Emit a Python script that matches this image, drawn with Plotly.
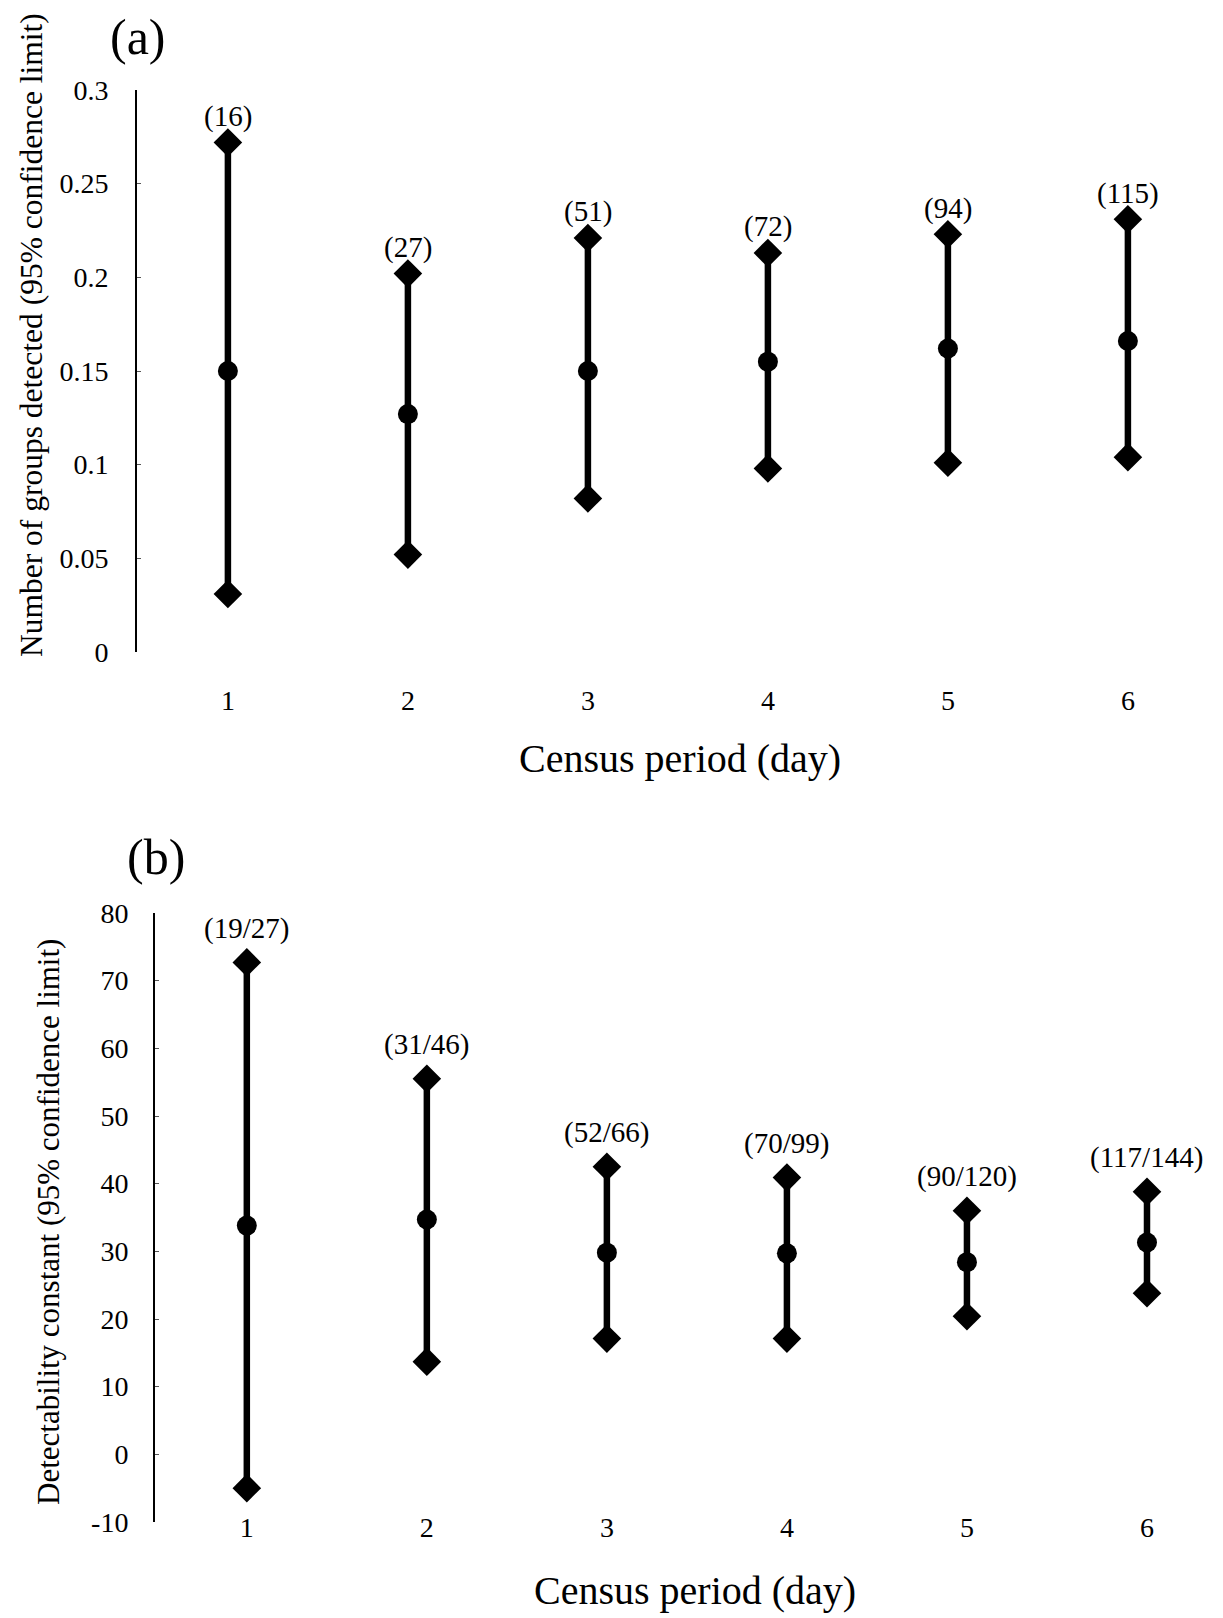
import plotly.graph_objects as go

W, H = 1223, 1618

# ---------- data ----------
days = [1, 2, 3, 4, 5, 6]

# panel (a): Number of groups detected
a_mean = [0.150, 0.127, 0.150, 0.155, 0.162, 0.166]
a_low = [0.031, 0.052, 0.082, 0.098, 0.101, 0.104]
a_high = [0.272, 0.202, 0.221, 0.213, 0.223, 0.231]
a_labels = ["(16)", "(27)", "(51)", "(72)", "(94)", "(115)"]

# panel (b): Detectability constant
b_mean = [33.8, 34.7, 29.8, 29.7, 28.4, 31.3]
b_low = [-5.0, 13.7, 17.1, 17.1, 20.4, 23.8]
b_high = [72.7, 55.5, 42.5, 40.9, 36.0, 38.8]
b_labels = ["(19/27)", "(31/46)", "(52/66)", "(70/99)", "(90/120)", "(117/144)"]

y_a_ticks = [0, 0.05, 0.1, 0.15, 0.2, 0.25, 0.3]
y_a_text = ["0", "0.05", "0.1", "0.15", "0.2", "0.25", "0.3"]
y_b_ticks = [-10, 0, 10, 20, 30, 40, 50, 60, 70, 80]
y_b_text = ["-10", "0", "10", "20", "30", "40", "50", "60", "70", "80"]

FONT = "Liberation Serif"
BLACK = "#000000"


def px_x(p):
    return p / W


def px_y(p):
    return 1 - p / H


fig = go.Figure()


def add_panel(xa, ya, mean, low, high):
    xs, ys = [], []
    for d, lo, hi in zip(days, low, high):
        xs += [d, d, None]
        ys += [lo, hi, None]
    fig.add_trace(go.Scatter(x=xs, y=ys, mode="lines", xaxis=xa, yaxis=ya,
                             line=dict(color=BLACK, width=6.5), showlegend=False,
                             hoverinfo="skip"))
    fig.add_trace(go.Scatter(x=days + days, y=low + high, mode="markers",
                             xaxis=xa, yaxis=ya, showlegend=False,
                             marker=dict(symbol="diamond", size=22, color=BLACK)))
    fig.add_trace(go.Scatter(x=days, y=mean, mode="markers", xaxis=xa, yaxis=ya,
                             showlegend=False,
                             marker=dict(symbol="circle", size=20, color=BLACK)))


add_panel("x", "y", a_mean, a_low, a_high)
add_panel("x2", "y2", b_mean, b_low, b_high)

annotations = []
for d, hi, t in zip(days, a_high, a_labels):
    annotations.append(dict(x=d, y=hi, xref="x", yref="y", text=t, showarrow=False,
                            xanchor="center", yanchor="middle",
                            yshift=26, font=dict(family=FONT, size=29, color=BLACK)))
for d, hi, t in zip(days, b_high, b_labels):
    annotations.append(dict(x=d, y=hi, xref="x2", yref="y2", text=t, showarrow=False,
                            xanchor="center", yanchor="middle",
                            yshift=34, font=dict(family=FONT, size=29, color=BLACK)))


def paper_text(x, y, text, size, angle=0):
    return dict(x=px_x(x), y=px_y(y), xref="paper", yref="paper", text=text,
                showarrow=False, xanchor="center", yanchor="middle", textangle=angle,
                font=dict(family=FONT, size=size, color=BLACK))


# panel letters
annotations.append(paper_text(138, 37, "(a)", 50))
annotations.append(paper_text(156, 857, "(b)", 50))
# x titles
annotations.append(paper_text(680, 758, "Census period (day)", 40))
annotations.append(paper_text(695, 1590, "Census period (day)", 40))
# y titles
annotations.append(paper_text(32, 335, "Number of groups detected (95% confidence limit)", 31.5, -90))
annotations.append(paper_text(48, 1222, "Detectability constant (95% confidence limit)", 31, -90))

tickfont = dict(family=FONT, size=28, color=BLACK)

common_x = dict(showline=False, showgrid=False, zeroline=False, ticks="",
                tickfont=tickfont, automargin=False, fixedrange=True)
common_y = dict(showline=True, linecolor=BLACK, linewidth=2,
                ticks="inside", ticklen=4, tickwidth=1, tickcolor="#555555",
                showgrid=False, zeroline=False, tickfont=tickfont,
                automargin=False, fixedrange=True)

fig.update_layout(
    template="none",
    width=W, height=H,
    autosize=False,
    margin=dict(l=0, r=0, t=0, b=0, pad=0, autoexpand=False),
    paper_bgcolor="white", plot_bgcolor="white",
    showlegend=False,
    annotations=annotations,
    xaxis=dict(domain=[px_x(137), px_x(1217)], range=[0.495, 6.495],
               anchor="free", position=px_y(681),
               tickvals=days, ticktext=[str(d) for d in days], **common_x),
    yaxis=dict(domain=[px_y(652), px_y(90)], range=[0, 0.3], anchor="x",
               tickvals=y_a_ticks, ticktext=y_a_text, ticklabelstandoff=21,
               **common_y),
    xaxis2=dict(domain=[px_x(155), px_x(1219)], range=[0.49, 6.4],
                anchor="free", position=px_y(1508),
                tickvals=days, ticktext=[str(d) for d in days], **common_x),
    yaxis2=dict(domain=[px_y(1522), px_y(913)], range=[-10, 80], anchor="x2",
                tickvals=y_b_ticks, ticktext=y_b_text, ticklabelstandoff=19,
                **common_y),
)

fig.write_html("out.html")
